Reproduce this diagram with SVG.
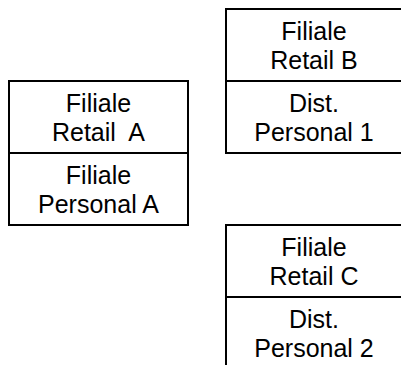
<svg xmlns="http://www.w3.org/2000/svg" width="401" height="365" viewBox="0 0 401 365">
<style>
.box{fill:#fff;stroke:#000;stroke-width:2}
.div{stroke:#000;stroke-width:2}
text{font-family:"Liberation Sans",Arial,sans-serif;font-size:25px;fill:#000;text-anchor:middle;white-space:pre}
</style>
<rect width="401" height="365" fill="#fff"/>
<g id="nodeA">
<rect class="box" x="9" y="81" width="179" height="144"/>
<line class="div" x1="9" y1="153" x2="188" y2="153"/>
<text x="98.5" y="112">Filiale</text>
<text x="98.5" y="141" xml:space="preserve">Retail  A</text>
<text x="98.5" y="184">Filiale</text>
<text x="98.5" y="213">Personal A</text>
</g>
<g id="nodeB">
<rect class="box" x="226" y="9" width="176" height="144"/>
<line class="div" x1="226" y1="81" x2="402" y2="81"/>
<text x="314" y="40">Filiale</text>
<text x="314" y="69">Retail B</text>
<text x="314" y="112">Dist.</text>
<text x="314" y="141">Personal 1</text>
</g>
<g id="nodeC">
<rect class="box" x="226" y="225" width="176" height="144"/>
<line class="div" x1="226" y1="297" x2="402" y2="297"/>
<text x="314" y="256">Filiale</text>
<text x="314" y="285">Retail C</text>
<text x="314" y="328">Dist.</text>
<text x="314" y="357">Personal 2</text>
</g>
<g id="connectors"/>
</svg>
